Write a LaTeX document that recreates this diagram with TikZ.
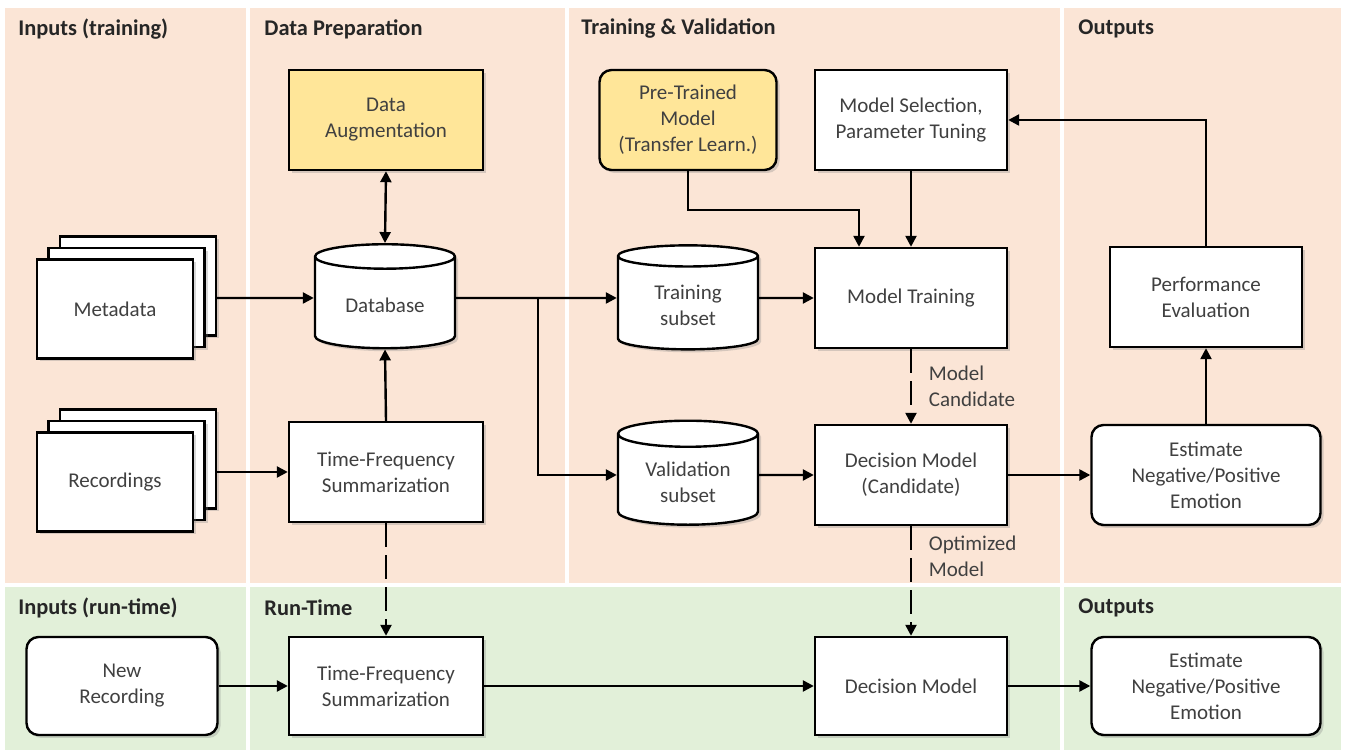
\documentclass[tikz,border=0pt]{standalone}
\usepackage{fontspec}
\setmainfont{Carlito}
\usetikzlibrary{arrows.meta,shapes.geometric,shadows}

\definecolor{peach}{HTML}{FBE5D6}
\definecolor{mint}{HTML}{E2F0D9}
\definecolor{gold}{HTML}{FFE699}
\definecolor{ink}{HTML}{404040}

\tikzset{
  box/.style={draw, line width=1.2pt, fill=white, align=center, text=ink,
    minimum width=96pt, minimum height=50pt, inner sep=2pt,
    font=\fontsize{10.5}{13}\selectfont,
    drop shadow={shadow xshift=1.5pt, shadow yshift=-1.5pt, opacity=.3}},
  rbox/.style={box, rounded corners=6pt},
  pile/.style={box, minimum width=78pt, minimum height=49.5pt},
  store/.style={box, cylinder, shape border rotate=90, aspect=0.28,
    minimum width=70pt, minimum height=52pt},
  head/.style={anchor=west, inner sep=0pt, font=\fontsize{11.2}{13}\bfseries\selectfont, text=black!85},
  note/.style={align=left, text=ink, font=\fontsize{10.5}{13}\selectfont},
  arr/.style={line width=1.2pt, ->},
  dasharr/.style={arr, dash pattern=on 12pt off 4pt}
}

\begin{document}
\begin{tikzpicture}[x=0.5pt, y=-0.5pt, >={Triangle[length=5.5pt,width=5.5pt]}]
\fill[white] (0,0) rectangle (1346,753);
\useasboundingbox (0,0) rectangle (1346,753);

% lanes
\fill[peach] (5,8) rectangle (246,583);
\fill[peach] (250,8) rectangle (565,583);
\fill[peach] (569,8) rectangle (1060,583);
\fill[peach] (1064,8) rectangle (1341,583);
\fill[mint] (5,587) rectangle (246,750);
\fill[mint] (250,587) rectangle (1060,750);
\fill[mint] (1064,587) rectangle (1341,750);

\node[head] (h1) at (18,29) {Inputs (training)};
\node[head] (h2) at (264,29) {Data Preparation};
\node[head] (h3) at (581,29) {Training \& Validation};
\node[head] (h4) at (1078,29) {Outputs};
\node[head] (h5) at (18,608) {Inputs (run-time)};
\node[head] (h6) at (264,608) {Run-Time};
\node[head] (h7) at (1078,608) {Outputs};

% nodes
\node[pile] (meta3) at (138,286) {};
\node[pile] (meta2) at (126.5,297.5) {};
\node[pile] (meta) at (115,309) {Metadata};
\node[pile] (rec3) at (138,459) {};
\node[pile] (rec2) at (126.5,470.5) {};
\node[pile] (rec) at (115,482) {Recordings};

\node[box, fill=gold, minimum width=97pt] (aug) at (386,120) {Data\\Augmentation};
\node[store] (db) at (385,305) {Database};
\node[box, minimum width=97pt] (tfs) at (386,472) {Time-Frequency\\Summarization};

\node[rbox, fill=gold, minimum width=88.5pt] (pre) at (688,120) {Pre-Trained\\Model\\(Transfer Learn.)};
\node[box] (sel) at (911,120) {Model Selection,\\Parameter Tuning};
\node[store] (trn) at (688,305) {Training\\subset};
\node[box] (mt) at (911,298) {Model Training};
\node[store] (val) at (688,482) {Validation\\subset};
\node[box] (dmc) at (911,475) {Decision Model\\(Candidate)};

\node[box] (perf) at (1206,297) {Performance\\Evaluation};
\node[rbox, minimum width=114.5pt] (est) at (1206,475) {Estimate\\Negative/Positive\\Emotion};

\node[rbox, minimum width=95.5pt, minimum height=49pt] (newrec) at (122,686) {New\\Recording};
\node[box, minimum width=97pt, minimum height=49pt] (tfs2) at (386,686) {Time-Frequency\\Summarization};
\node[box, minimum height=49pt] (dm) at (911,686) {Decision Model};
\node[rbox, minimum width=114.5pt, minimum height=49pt] (est2) at (1206,686) {Estimate\\Negative/Positive\\Emotion};

\coordinate (split) at (538,298);

% connectors
\draw[arr, <->] (aug.south) -- (db.north);
\draw[arr] (meta3.east |- split) -- ([yshift=3.5pt]db.west);
\draw[arr] (rec3.east |- tfs.west) -- (tfs.west);
\draw[arr] (tfs.north) -- (db.south);
\draw[arr] ([yshift=3.5pt]db.east) -- ([yshift=3.5pt]trn.west);
\draw[arr] (split) |- ([yshift=3.5pt]val.west);
\draw[arr] ([yshift=3.5pt]trn.east) -- (mt.west);
\draw[arr] ([yshift=3.5pt]val.east) -- (dmc.west);
\draw[arr] (pre.south) -- ++(0,39) -| ([xshift=-26pt]mt.north);
\draw[arr] (sel.south) -- (mt.north);
\draw[dasharr] (mt.south) -- node[note, right=5pt] (lab1) {Model\\Candidate} (dmc.north);
\draw[dasharr] (dmc.south) -- node[note, pos=.27, right=5pt] (lab2) {Optimized\\Model} (dm.north);
\draw[arr] (dmc.east) -- (est.west);
\draw[arr] (est.north) -- (perf.south);
\draw[arr] (perf.north) |- (sel.east);
\draw[dasharr] (tfs.south) -- (tfs2.north);
\draw[arr] (newrec.east) -- (tfs2.west);
\draw[arr] (tfs2.east) -- (dm.west);
\draw[arr] (dm.east) -- (est2.west);
\end{tikzpicture}
\end{document}
